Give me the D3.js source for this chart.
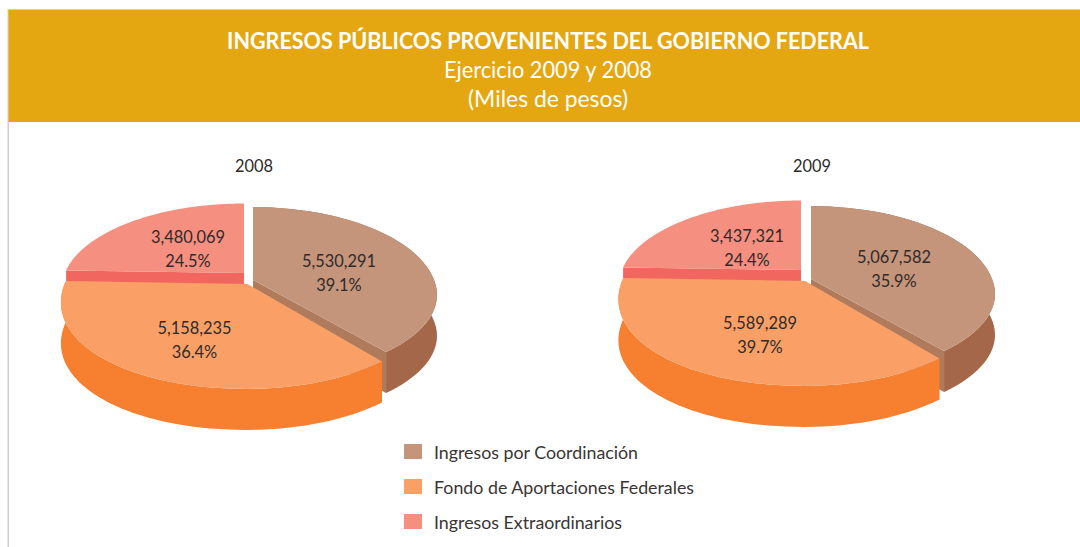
<!DOCTYPE html>
<html><head><meta charset="utf-8">
<script src="https://cdn.jsdelivr.net/npm/d3@7"></script>
<style>html,body{margin:0;padding:0;background:#fff}svg{display:block}text{font-family:Lato,"Noto Sans",sans-serif}</style>
</head><body><svg id="c" width="1080" height="547"></svg>
<script>
const titleLines = ["INGRESOS PÚBLICOS PROVENIENTES DEL GOBIERNO FEDERAL","Ejercicio 2009 y 2008","(Miles de pesos)"];
const categories = ["Ingresos por Coordinación","Fondo de Aportaciones Federales","Ingresos Extraordinarios"];
const years = ["2008","2009"];
const values2008 = [5530291,5158235,3480069];
const values2009 = [5067582,5589289,3437321];
const percents2008 = ["39.1%","36.4%","24.5%"];
const percents2009 = ["35.9%","39.7%","24.4%"];
// Wedge sizes as drawn in the picture (the 2009 wedges are not drawn to its percentages)
const drawnShares2008 = [39.1,36.4,24.5];
const drawnShares2009 = [39.1,36.4,24.5];

// Layout
const topColors = ["#C4957A","#FAA066","#F58F80"];
const outerColors = ["#A5674A","#F67F30","#F26660"];
const innerColors = ["#B07A5C","#F67F30","#F26660"];
const pies2008 = {year:172,yearX:254,apex:[[253,280],[247.5,284],[244,273]],
  labels:[[339,267],[194.5,334],[188,243]]};
const pies2009 = {year:172,yearX:812,apex:[[811,279],[805,281],[801,270]],
  labels:[[894,263],[760,329],[747,242]]};
const RX=[181,183,179], RXL=[181,183,179], RY_BACK=[86,86,82], RY_FRONT=[80,86,84], BULGE=[1,0.96,1], P=0.18, DEPTH=41;
const titleStyle=[{y:49,size:23,weight:700,len:642},{y:78,size:22.5,weight:400,len:208},{y:107,size:22.5,weight:400,len:160}];
const legendTextLen=[204,260,188];

const svg=d3.select("#c");
svg.append("rect").attr("x",8).attr("y",9).attr("width",1072).attr("height",1).attr("fill","#d0d0d0");
svg.append("rect").attr("x",7.5).attr("y",9).attr("width",1.5).attr("height",538).attr("fill","#cfcfcf");
svg.append("rect").attr("x",8.5).attr("y",10).attr("width",1072).attr("height",112).attr("fill","#E5A711");
svg.selectAll("text.t").data(titleLines).join("text").attr("class","t")
  .attr("x",548).attr("y",(d,i)=>titleStyle[i].y).attr("text-anchor","middle").attr("fill","#fff")
  .attr("font-size",(d,i)=>titleStyle[i].size).attr("font-weight",(d,i)=>titleStyle[i].weight)
  .attr("textLength",(d,i)=>titleStyle[i].len).attr("lengthAdjust","spacingAndGlyphs").text(d=>d);

const fmt=d3.format(",");
const lineGen=d3.line();
function project(theta,i,apex,dy=0){
  let u=Math.sin(theta),v=-Math.cos(theta);
  if(u<0){u=-Math.pow(-u,BULGE[i]);v=Math.sign(v)*Math.pow(Math.abs(v),BULGE[i]);}
  const w=1-P*v, ry=v<0?RY_BACK[i]:RY_FRONT[i], rx=u<0?RXL[i]:RX[i];
  return [apex[0]+rx*u/w, apex[1]+ry*v/w+dy];
}
function drawPie(shares,values,percents,cfg,year){
  const arcs=d3.pie().sort(null)(shares);
  const g=svg.append("g");
  const arcPts=(a,i,dy=0)=>d3.range(0,61).map(k=>project(a.startAngle+(a.endAngle-a.startAngle)*k/60,i,cfg.apex[i],dy));
  const shift=(p,d)=>[p[0],p[1]+d];
  [2,0,1].forEach(i=>{
    const a=arcs[i],ap=cfg.apex[i],top=arcPts(a,i),low=arcPts(a,i,DEPTH);
    const faces = i===0 ? [top[60]] : i===2 ? [top[0]] : [];
    faces.forEach(e=>g.append("path").attr("d",lineGen([ap,e,shift(e,DEPTH),shift(ap,DEPTH)])+"Z").attr("fill",innerColors[i]));
    if(i!==2) g.append("path").attr("d",lineGen([...top,...low.slice().reverse()])+"Z").attr("fill",outerColors[i]);
    g.append("path").attr("d",lineGen([ap,...top])+"Z").attr("fill",topColors[i]);
  });
  const lbl=svg.append("g").attr("font-size",16.4).attr("fill","#2f2a2a").attr("text-anchor","middle");
  values.forEach((v,i)=>{
    lbl.append("text").attr("x",cfg.labels[i][0]).attr("y",cfg.labels[i][1]).text(fmt(v));
    lbl.append("text").attr("x",cfg.labels[i][0]).attr("y",cfg.labels[i][1]+23.5).text(percents[i]);
  });
  svg.append("text").attr("x",cfg.yearX).attr("y",cfg.year).attr("text-anchor","middle").attr("font-size",16.4).attr("fill","#2f2a2a").text(year);
}
drawPie(drawnShares2008,values2008,percents2008,pies2008,years[0]);
drawPie(drawnShares2009,values2009,percents2009,pies2009,years[1]);

const legY=d3.scalePoint().domain(categories).range([444,514]);
const leg=svg.append("g");
leg.selectAll("rect").data(categories).join("rect").attr("x",404).attr("y",d=>legY(d)).attr("width",18).attr("height",15).attr("fill",(d,i)=>topColors[i]);
leg.selectAll("text").data(categories).join("text").attr("x",434).attr("y",d=>legY(d)+15).attr("font-size",16.8).attr("fill","#3a3535")
  .attr("textLength",(d,i)=>legendTextLen[i]).attr("lengthAdjust","spacingAndGlyphs").text(d=>d);
</script></body></html>
